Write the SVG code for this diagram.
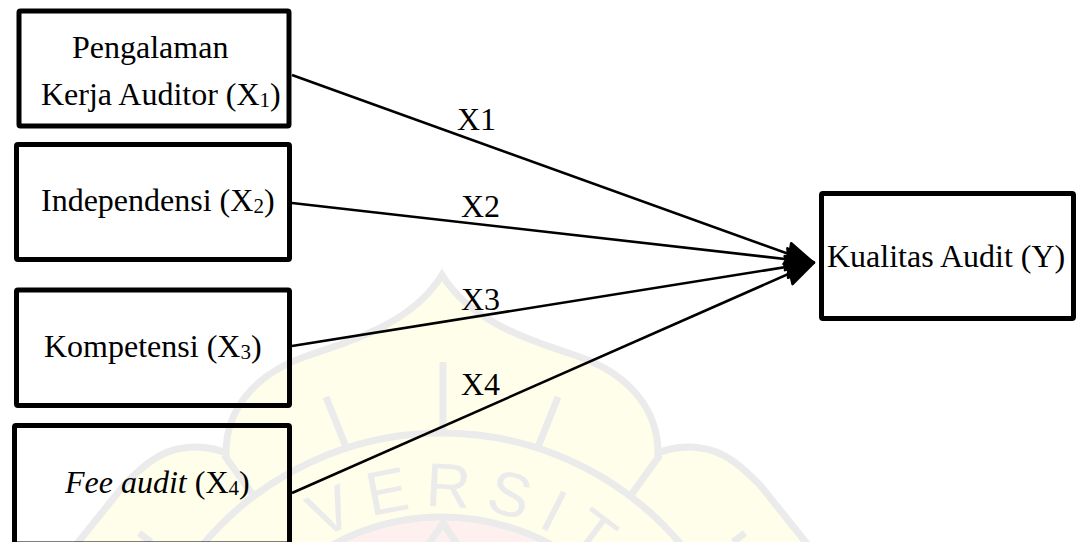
<svg xmlns="http://www.w3.org/2000/svg" width="1076" height="542" viewBox="0 0 1076 542">
  <style>
    .box { fill: none; stroke: #000; stroke-width: 5; stroke-linejoin: round; }
    .t { font-family: "Liberation Serif", "Times New Roman", serif; font-size: 32px; fill: #000; }
    .s { font-size: 21px; }
    .link { fill: none; stroke: #000; stroke-width: 2.600; marker-end: url(#head); }
    .wm { fill: none; stroke: #ebebeb; stroke-width: 7; }
    .wt { font-family: "Liberation Sans", Arial, sans-serif; font-size: 62px; fill: #ebebeb; }
  </style>
  <defs>
    <marker id="head" markerUnits="userSpaceOnUse" markerWidth="40" markerHeight="30" viewBox="-2 -15 36 30" refX="25" refY="0" orient="auto">
      <path d="M0,-11 L28,0 L0,11 L2,0 Z" fill="#000" stroke="#000" stroke-width="2.500" stroke-linejoin="round"/>
    </marker>
    <path id="arc" d="M204,745 A238,238 0 0 1 680,745"/>
  </defs>
  <rect width="1076" height="542" fill="#fff"/>
  <g id="watermark">
    <path d="M442,275 C470,320 520,337 580,357 C630,375 658,410 658,453 C672,447 690,446 700,448 C725,450 745,470 760,485 L820,560 L64,560 L124,485 C139,470 159,450 184,448 C194,446 212,447 226,453 C226,410 254,375 304,357 C364,337 414,320 442,275 Z" fill="#fffeea" stroke="#ebebeb" stroke-width="7"/>
    <circle class="wm" cx="442" cy="745" r="312"/>
    <circle cx="442" cy="746" r="229" fill="#fff0f0" stroke="#ebebeb" stroke-width="7"/>
    <path class="wm" d="M428,545 L443,523 L458,545 M443,362 V433 M558,397 L538,447 M326,397 L346,447 M660,455 L631,495 M224,455 L253,495 M745,533 L733,542 M139,533 L151,542"/>
    <text class="wt" letter-spacing="14"><textPath href="#arc" startOffset="246">VERSIT</textPath></text>
  </g>
  <g id="connectors">
    <path class="link" d="M292,75 L811,262"/>
    <path class="link" d="M292,203 L811,262"/>
    <path class="link" d="M292,346 L811,263"/>
    <path class="link" d="M292,493 L811,264"/>
  </g>
  <g id="node-x1">
    <rect class="box" x="19" y="11" width="270" height="115" rx="1.5"/>
    <text class="t" x="72" y="58">Pengalaman</text>
    <text class="t" x="41" y="105">Kerja Auditor (X<tspan class="s" dy="2">1</tspan><tspan dy="-2">)</tspan></text>
  </g>
  <g id="node-x2">
    <rect class="box" x="16.5" y="144.5" width="273" height="115" rx="1.5"/>
    <text class="t" x="41" y="211">Independensi (X<tspan class="s" dy="2">2</tspan><tspan dy="-2">)</tspan></text>
  </g>
  <g id="node-x3">
    <rect class="box" x="16.5" y="290" width="273" height="115.500" rx="1.5"/>
    <text class="t" x="44" y="357">Kompetensi (X<tspan class="s" dy="2">3</tspan><tspan dy="-2">)</tspan></text>
  </g>
  <g id="node-x4">
    <rect class="box" x="14.500" y="425.500" width="275" height="118.500" rx="1.5"/>
    <text class="t" x="65" y="493"><tspan font-style="italic">Fee audit </tspan>(X<tspan class="s" dy="2">4</tspan><tspan dy="-2">)</tspan></text>
  </g>
  <g id="node-y">
    <rect class="box" x="821.500" y="193.500" width="252" height="125" rx="1.5"/>
    <text class="t" x="827" y="267">Kualitas Audit (Y)</text>
  </g>
  <g id="labels">
    <text class="t" x="457" y="130">X1</text>
    <text class="t" x="461" y="217">X2</text>
    <text class="t" x="461" y="310">X3</text>
    <text class="t" x="461" y="395">X4</text>
  </g>
</svg>
